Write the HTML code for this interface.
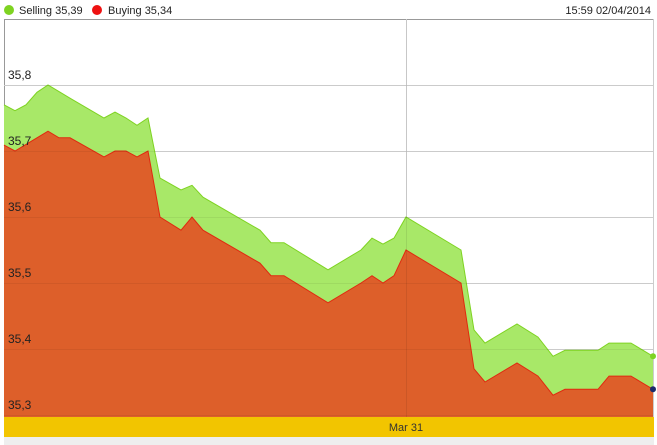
<!DOCTYPE html>
<html><head><meta charset="utf-8"><style>
body{margin:0;background:#fff;font-family:"Liberation Sans",sans-serif;}
svg{display:block}
</style></head><body>
<svg id="c" width="657" height="445" xmlns="http://www.w3.org/2000/svg" font-family="Liberation Sans, sans-serif">
<rect x="0" y="0" width="657" height="445" fill="#fff"/>
<g>
<circle cx="9" cy="10" r="5" fill="#7ed321"/>
<text x="19" y="14" font-size="11" fill="#222">Selling 35,39</text>
<circle cx="97" cy="10" r="5" fill="#ee1111"/>
<text x="108" y="14" font-size="11" fill="#222">Buying 35,34</text>
<text x="651" y="14" font-size="11" fill="#222" text-anchor="end">15:59 02/04/2014</text>
</g>
<rect x="4" y="437" width="650" height="8" fill="#eeeeee"/>
<line x1="4" y1="19.5" x2="653" y2="19.5" stroke="#999"/>
<line x1="4.5" y1="19" x2="4.5" y2="437" stroke="#999"/>
<line x1="653.5" y1="19" x2="653.5" y2="437" stroke="#ccc"/>
<g id="grid"></g>
<g id="areas"></g>
<g id="labels"></g>
<rect x="4" y="417" width="650" height="20" fill="#f2c500"/>
<text x="406" y="431" font-size="11" fill="#333" text-anchor="middle">Mar 31</text>
</svg>
<script>
const times=[0,11,22,33,44,55,66,100,111,122,133,144,156,177,188,199,256,267,280,324,357,368,379,390,402,457,470,481,513,534,549,561,594,605,627,649];
const selling=[35.770,35.761,35.770,35.789,35.800,35.790,35.780,35.750,35.759,35.750,35.739,35.750,35.659,35.641,35.648,35.630,35.580,35.561,35.561,35.520,35.550,35.568,35.559,35.568,35.600,35.550,35.429,35.409,35.438,35.418,35.389,35.398,35.398,35.409,35.409,35.389];
const buying=[35.709,35.700,35.710,35.720,35.730,35.720,35.720,35.691,35.700,35.700,35.691,35.700,35.600,35.580,35.600,35.580,35.530,35.511,35.511,35.470,35.500,35.511,35.500,35.511,35.550,35.500,35.370,35.350,35.379,35.359,35.330,35.339,35.339,35.359,35.359,35.339];
const yTicks=[35.3,35.4,35.5,35.6,35.7,35.8];
const yTickLabels=["35,3","35,4","35,5","35,6","35,7","35,8"];
const xGridTime=402;
const NS="http://www.w3.org/2000/svg";
const X=t=>4+t;
const Y=v=>85+(35.8-v)*660;
const BASE=417;
function el(tag,attrs,parent){const e=document.createElementNS(NS,tag);for(const k in attrs)e.setAttribute(k,attrs[k]);parent.appendChild(e);return e;}
const grid=document.getElementById('grid'),areas=document.getElementById('areas'),labels=document.getElementById('labels');
yTicks.forEach((v,i)=>{
 const l=el('line',{x1:4,x2:653,y1:Math.round(Y(v))+0.5,y2:Math.round(Y(v))+0.5,stroke:'#d8d8d8'},grid);
 
 
 const t=el('text',{x:8,y:Y(v)-6,'font-size':12,fill:'#222'},labels);
 t.textContent=yTickLabels[i];
 
 
});
const vg=el('line',{x1:X(xGridTime)+0.5,x2:X(xGridTime)+0.5,y1:19,y2:417,stroke:'#d8d8d8'},grid);


function area(vals,fill,stroke,name){
 let d='M'+X(times[0])+','+BASE;
 vals.forEach((v,i)=>{d+=' L'+X(times[i])+','+Y(v).toFixed(1);});
 d+=' L'+X(times[times.length-1])+','+BASE+' Z';
 const p=el('path',{d:d,fill:fill},areas);
 
 
 const ln=el('polyline',{points:vals.map((v,i)=>X(times[i])+','+Y(v).toFixed(1)).join(' '),fill:'none',stroke:stroke,'stroke-width':1},areas);
 
 
}
area(selling,'#a8e868','#7ed321','selling');
area(buying,'#dd5f2a','#e02a10','buying');
// vertical grid visible through areas
const vg2=el('line',{x1:X(xGridTime)+0.5,x2:X(xGridTime)+0.5,y1:19,y2:417,stroke:'rgba(0,0,0,0.08)'},areas);


yTicks.forEach(v=>{
 const l=el('line',{x1:4,x2:653,y1:Math.round(Y(v))+0.5,y2:Math.round(Y(v))+0.5,stroke:'rgba(0,0,0,0.06)'},areas);
 
 
});
const n=times.length-1;
const m1=el('circle',{cx:X(times[n]),cy:Y(selling[n]),r:3,fill:'#7ed321'},areas);


const m2=el('circle',{cx:X(times[n]),cy:Y(buying[n]),r:3,fill:'#1a2a6a'},areas);


</script>
</body></html>
